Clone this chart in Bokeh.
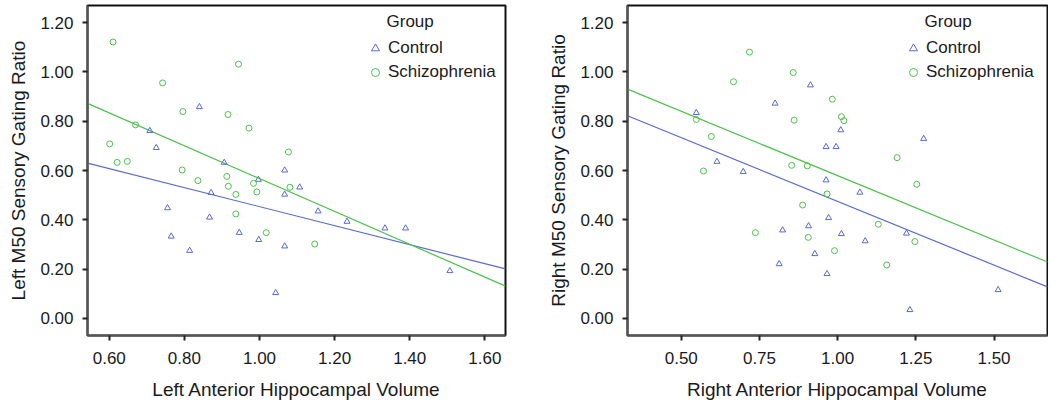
from bokeh.plotting import figure
from bokeh.layouts import row
from bokeh.models import (Range1d, FixedTicker, PrintfTickFormatter, Legend, LegendItem, Label)
from bokeh.embed import file_html
from bokeh.resources import INLINE

# ---------------- data ----------------
left_ctrl_x = [0.840, 0.708, 0.725, 0.906, 0.997, 1.067, 1.067, 0.871, 0.755, 0.867, 0.765,
               0.814, 0.946, 0.998, 1.067, 1.043, 1.107, 1.156, 1.233, 1.334, 1.389, 1.507]
left_ctrl_y = [0.858, 0.761, 0.692, 0.632, 0.563, 0.601, 0.503, 0.510, 0.448, 0.410, 0.333,
               0.275, 0.348, 0.319, 0.293, 0.104, 0.532, 0.435, 0.393, 0.366, 0.366, 0.193]
left_scz_x = [0.610, 0.944, 0.742, 0.796, 0.916, 0.972, 0.670, 0.601, 0.621, 0.648, 1.077,
              0.794, 0.836, 0.913, 0.917, 0.937, 0.984, 0.993, 1.081, 0.937, 1.018, 1.147]
left_scz_y = [1.121, 1.031, 0.955, 0.839, 0.827, 0.772, 0.785, 0.708, 0.633, 0.637, 0.675,
              0.602, 0.559, 0.576, 0.536, 0.503, 0.548, 0.513, 0.532, 0.424, 0.348, 0.302]

right_ctrl_x = [0.913, 0.800, 0.548, 0.614, 0.698, 0.963, 0.995, 0.963, 0.971, 0.824, 0.907,
                0.927, 0.813, 0.966, 1.010, 1.275, 1.071, 1.012, 1.088, 1.220, 1.513, 1.231]
right_ctrl_y = [0.946, 0.872, 0.834, 0.636, 0.595, 0.696, 0.696, 0.561, 0.408, 0.358, 0.375,
                0.262, 0.221, 0.181, 0.764, 0.729, 0.511, 0.343, 0.314, 0.345, 0.116, 0.035]
right_scz_x = [0.718, 0.858, 0.667, 0.983, 0.548, 0.861, 0.596, 0.571, 0.853, 0.903, 0.966,
               0.888, 0.737, 0.906, 0.990, 1.012, 1.020, 1.190, 1.253, 1.130, 1.247, 1.157]
right_scz_y = [1.080, 0.997, 0.960, 0.889, 0.807, 0.804, 0.738, 0.598, 0.621, 0.619, 0.505,
               0.460, 0.348, 0.329, 0.275, 0.818, 0.802, 0.652, 0.544, 0.382, 0.312, 0.217]

# fit lines (end points)
left_fit_x = [0.542, 1.655]
left_ctrl_fit_y = [0.630, 0.201]
left_scz_fit_y = [0.872, 0.131]
right_fit_x = [0.328, 1.671]
right_ctrl_fit_y = [0.822, 0.128]
right_scz_fit_y = [0.930, 0.229]

left_xticks = [0.6, 0.8, 1.0, 1.2, 1.4, 1.6]
right_xticks = [0.5, 0.75, 1.0, 1.25, 1.5]
yticks = [0.0, 0.2, 0.4, 0.6, 0.8, 1.0, 1.2]

groups = ["Control", "Schizophrenia"]
legend_title = "Group"

FONT = "Liberation Sans"
BLUE = "#5a6ad0"
GREEN = "#4cc24c"
TXT = "#1a1a1a"

FIG_H = 408
MB_TOP = 5
MB_BOTTOM = 73
FRAME_H = FIG_H - MB_TOP - MB_BOTTOM


def make_plot(width, mb_left, mb_right, xr, xticks, xlabel, ylabel,
              cx, cy, sx, sy, fx, cfy, sfy, legend_x):
    p = figure(width=width, height=FIG_H, output_backend="svg", toolbar_location=None,
               x_range=Range1d(*xr), y_range=Range1d(-0.069, 1.269),
               min_border_left=mb_left, min_border_right=mb_right,
               min_border_top=MB_TOP, min_border_bottom=MB_BOTTOM)
    p.background_fill_color = "white"
    p.border_fill_color = "white"
    p.grid.visible = False
    p.outline_line_color = "#111111"
    p.outline_line_width = 2

    p.xaxis.ticker = FixedTicker(ticks=xticks)
    p.yaxis.ticker = FixedTicker(ticks=yticks)
    p.xaxis.formatter = PrintfTickFormatter(format="%.2f")
    p.yaxis.formatter = PrintfTickFormatter(format="%.2f")
    p.xaxis.axis_label = xlabel
    p.yaxis.axis_label = ylabel
    for ax in (p.xaxis, p.yaxis):
        ax.axis_line_color = "#555555"
        ax.axis_line_width = 2
        ax.major_tick_line_color = "#222222"
        ax.major_tick_line_width = 2
        ax.major_tick_out = 5
        ax.major_tick_in = 0
        ax.minor_tick_line_color = None
        ax.major_label_text_font = FONT
        ax.major_label_text_font_size = "17px"
        ax.major_label_text_color = TXT
        ax.axis_label_text_font = FONT
        ax.axis_label_text_font_size = "19px"
        ax.axis_label_text_font_style = "normal"
        ax.axis_label_text_color = TXT
    p.xaxis.major_label_standoff = 11
    p.yaxis.major_label_standoff = 9
    p.xaxis.axis_label_standoff = 12
    p.yaxis.axis_label_standoff = 8

    p.line(fx, cfy, line_color=BLUE, line_width=1.2)
    p.line(fx, sfy, line_color=GREEN, line_width=1.2)
    r_c = p.scatter(cx, cy, marker="triangle", size=6, fill_color=None,
                    line_color=BLUE, line_width=1)
    r_s = p.scatter(sx, sy, marker="circle", size=6, fill_color=None,
                    line_color=GREEN, line_width=1)

    # legend: rows centred 43 and 67 px below the frame top
    leg = Legend(items=[LegendItem(label=groups[0], renderers=[r_c]),
                        LegendItem(label=groups[1], renderers=[r_s])],
                 location=(legend_x, FRAME_H - 33 - 44))
    leg.padding = 0
    leg.margin = 0
    leg.spacing = 4
    leg.glyph_width = 20
    leg.glyph_height = 20
    leg.label_height = 20
    leg.label_standoff = 3
    leg.border_line_color = None
    leg.background_fill_alpha = 0
    leg.label_text_font = FONT
    leg.label_text_font_size = "17px"
    leg.label_text_color = TXT
    p.add_layout(leg, "center")

    title = Label(x=legend_x + 21, y=FRAME_H - 16, x_units="screen", y_units="screen",
                  text=legend_title, text_font=FONT, text_font_size="17px",
                  text_color=TXT, text_baseline="middle", text_align="left")
    p.add_layout(title)
    return p


p1 = make_plot(520, 87, 15, (0.542, 1.655), left_xticks,
               "Left Anterior Hippocampal Volume", "Left M50 Sensory Gating Ratio",
               left_ctrl_x, left_ctrl_y, left_scz_x, left_scz_y,
               left_fit_x, left_ctrl_fit_y, left_scz_fit_y, 278)
p2 = make_plot(528, 107, 1, (0.328, 1.671), right_xticks,
               "Right Anterior Hippocampal Volume", "Right M50 Sensory Gating Ratio",
               right_ctrl_x, right_ctrl_y, right_scz_x, right_scz_y,
               right_fit_x, right_ctrl_fit_y, right_scz_fit_y, 276)

layout = row(p1, p2)
open("out.html", "w").write(file_html(layout, INLINE))
